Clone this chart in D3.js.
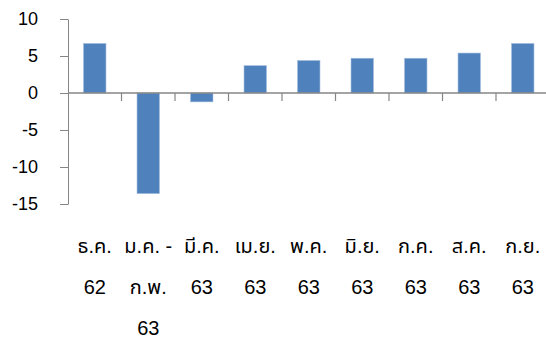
<!DOCTYPE html>
<html>
<head>
<meta charset="utf-8">
<script src="https://cdn.jsdelivr.net/npm/d3@7"></script>
<style>
  body { margin: 0; background: #fff; }
  svg { display: block; font-family: "Liberation Sans", Arial, "Noto Sans Thai", sans-serif; }
</style>
</head>
<body>
<svg id="chart"></svg>
<script>
// Data
const categories = ["ธ.ค.\n62", "ม.ค. -\nก.พ.\n63", "มี.ค.\n63", "เม.ย.\n63", "พ.ค.\n63", "มิ.ย.\n63", "ก.ค.\n63", "ส.ค.\n63", "ก.ย.\n63"];
const values = [6.7, -13.6, -1.2, 3.7, 4.4, 4.7, 4.7, 5.4, 6.7];
const yTicks = [10, 5, 0, -5, -10, -15];

const width = 546, height = 343;
const margin = { top: 19, left: 68, bottom: 139 };
const bandW = 53.5;

const svg = d3.select("#chart").attr("width", width).attr("height", height);

const x = d3.scaleBand()
  .domain(categories)
  .range([margin.left, margin.left + bandW * categories.length])
  .paddingInner(0.58).paddingOuter(0.29);

const y = d3.scaleLinear().domain([-15, 10]).range([height - margin.bottom, margin.top]);

// y axis (plain hyphen for negatives, like the original)
const yAxis = svg.append("g")
  .attr("transform", `translate(${margin.left},0)`)
  .call(d3.axisLeft(y).tickValues(yTicks).tickFormat((d) => String(d))
    .tickSize(8).tickSizeOuter(0).tickPadding(22));
yAxis.select(".domain").attr("stroke", "#868686");
yAxis.selectAll(".tick line").attr("stroke", "#868686");
yAxis.selectAll(".tick text").attr("fill", "#000").style("font-size", "18px");

// bars
svg.selectAll("rect.bar")
  .data(values)
  .enter()
  .append("rect")
  .attr("class", "bar")
  .attr("x", (d, i) => x(categories[i]))
  .attr("width", x.bandwidth())
  .attr("y", (d) => y(Math.max(0, d)))
  .attr("height", (d) => Math.abs(y(d) - y(0)))
  .attr("fill", "#4F81BD")
  .attr("stroke", "#A7BFDE")
  .attr("stroke-width", 0.6);

// zero line with category ticks
const zero = y(0);
svg.append("line")
  .attr("x1", margin.left).attr("x2", width)
  .attr("y1", zero).attr("y2", zero)
  .attr("stroke", "#868686").attr("stroke-width", 1.5);

svg.selectAll("line.ctick")
  .data(categories.slice(1))
  .enter()
  .append("line")
  .attr("class", "ctick")
  .attr("x1", (d) => x(d) - x.step() * x.paddingInner() / 2)
  .attr("x2", (d) => x(d) - x.step() * x.paddingInner() / 2)
  .attr("y1", zero).attr("y2", zero + 8)
  .attr("stroke", "#868686").attr("stroke-width", 1.2);

// category labels, wrapped
const labels = svg.selectAll("text.cat")
  .data(categories)
  .enter()
  .append("text")
  .attr("class", "cat")
  .attr("text-anchor", "middle")
  .style("font-size", "20px")
  .attr("fill", "#000");

labels.each(function (d) {
  const t = d3.select(this);
  const cx = x(d) + x.bandwidth() / 2;
  d.split("\n").forEach((line, j) => {
    t.append("tspan").attr("x", cx).attr("y", 253 + j * 41).text(line);
  });
});
</script>
</body>
</html>
